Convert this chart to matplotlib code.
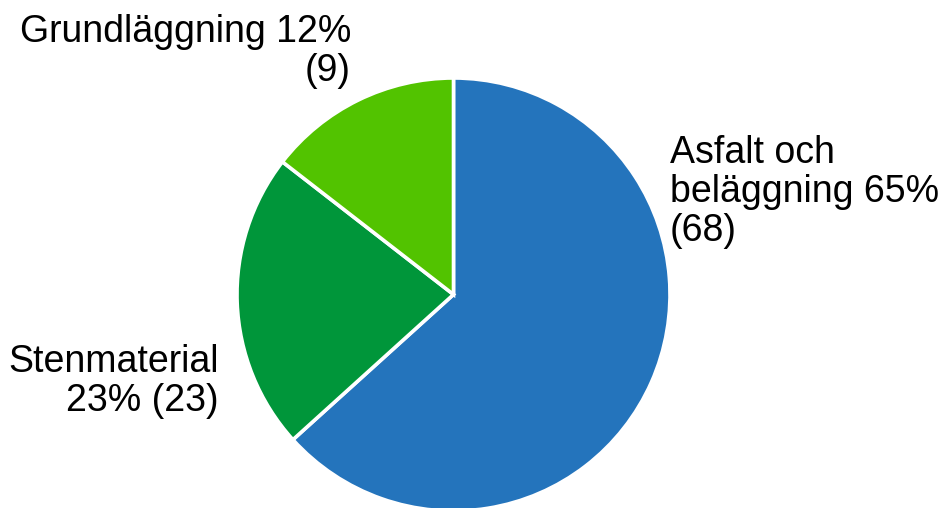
import matplotlib
matplotlib.use("Agg")
import matplotlib.pyplot as plt

plt.rcParams['font.family'] = ['Liberation Sans', 'DejaVu Sans']

categories = ["Asfalt och\nbeläggning", "Stenmaterial", "Grundläggning"]
shares = [63.3, 22.2, 14.5]          # slice sizes
pct_labels = ["65%", "23%", "12%"]
counts = ["68", "23", "9"]
colors = ["#2474BC", "#00963A", "#52C300"]

W, H = 944, 508
fig = plt.figure(figsize=(W / 100, H / 100), dpi=100)
cx, cy, r = 453.5, 294.5, 216.5
ax = fig.add_axes([(cx - r) / W, (H - cy - r) / H, 2 * r / W, 2 * r / H])
ax.pie(shares, colors=colors, startangle=90, counterclock=False, radius=1,
       wedgeprops=dict(edgecolor="white", linewidth=2.6))
ax.set_xlim(-1, 1)
ax.set_ylim(-1, 1)
ax.set_aspect("equal")
ax.axis("off")

def px(x, y):
    return ((x - cx) / r, (cy - y) / r)

fs = 27
texts = [
    (f"Asfalt och\nbeläggning {pct_labels[0]}\n({counts[0]})", px(670, 135), "left"),
    (f"Stenmaterial\n{pct_labels[1]} ({counts[1]})", px(219, 344), "right"),
    (f"Grundläggning {pct_labels[2]}\n({counts[2]})", px(351, 14), "right"),
]
for s, (x, y), ha in texts:
    ax.text(x, y, s, ha=ha, va="top", fontsize=fs, color="black",
            multialignment=ha, linespacing=1.1, clip_on=False)

fig.savefig("out.png", dpi=100)
